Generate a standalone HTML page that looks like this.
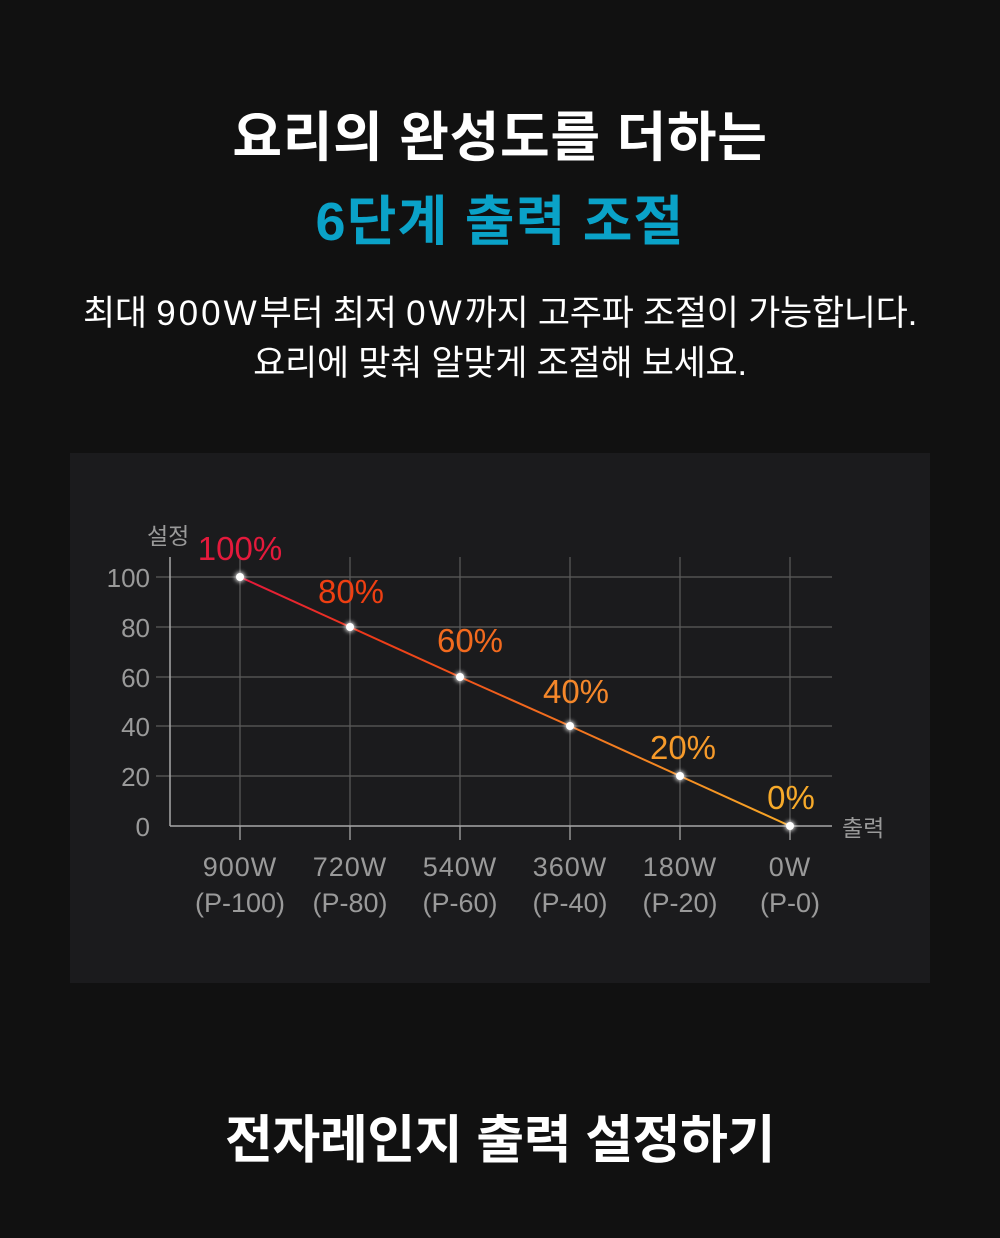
<!DOCTYPE html>
<html lang="ko">
<head>
<meta charset="utf-8">
<style>
  html, body { margin: 0; padding: 0; }
  body {
    width: 1000px; height: 1238px; background: #111111; position: relative; overflow: hidden;
    font-family: "Liberation Sans", "Noto Sans CJK KR", sans-serif;
  }
  .t { position: absolute; left: 0; width: 1000px; text-align: center; white-space: nowrap; line-height: 1; }
  .h1 { font-size: 54px; font-weight: 700; letter-spacing: 0.7px; color: #ffffff; }
  .h1c { color: #0aa2c8; letter-spacing: 1.2px; }
  .sub { font-size: 35px; font-weight: 400; letter-spacing: -0.3px; color: #ffffff; }
  .sub .n { letter-spacing: 3px; }
  .h2 { font-size: 52px; font-weight: 700; letter-spacing: -0.4px; color: #ffffff; }
  .panel { position: absolute; left: 70px; top: 453px; width: 860px; height: 530px; background: #1b1b1d; }
  svg { position: absolute; left: 0; top: 0; }
</style>
</head>
<body>
  <div class="t h1" style="top:111px;">요리의 완성도를 더하는</div>
  <div class="t h1 h1c" style="top:195px;">6단계 출력 조절</div>
  <div class="t sub" style="top:296px;">최대 <span class="n">900W</span>부터 최저 <span class="n">0W</span>까지 고주파 조절이 가능합니다.</div>
  <div class="t sub" style="top:346px;">요리에 맞춰 알맞게 조절해 보세요.</div>

  <div class="panel"></div>

  <svg width="1000" height="1238" viewBox="0 0 1000 1238" xmlns="http://www.w3.org/2000/svg">
    <defs>
      <linearGradient id="lg" x1="240" y1="0" x2="790" y2="0" gradientUnits="userSpaceOnUse">
        <stop offset="0" stop-color="#e4183c"/>
        <stop offset="0.25" stop-color="#ee3c18"/>
        <stop offset="0.55" stop-color="#f26c1e"/>
        <stop offset="1" stop-color="#f7a826"/>
      </linearGradient>
      <filter id="glow" x="-2" y="-2" width="5" height="5">
        <feGaussianBlur stdDeviation="2.2"/>
      </filter>
    </defs>

    <!-- horizontal grid + ticks -->
    <g stroke="#5c5c5c" stroke-width="1.2">
      <line x1="156" y1="577" x2="832" y2="577"/>
      <line x1="156" y1="627" x2="832" y2="627"/>
      <line x1="156" y1="677" x2="832" y2="677"/>
      <line x1="156" y1="726" x2="832" y2="726"/>
      <line x1="156" y1="776" x2="832" y2="776"/>
    </g>
    <!-- vertical grid + ticks -->
    <g stroke="#5c5c5c" stroke-width="1.2">
      <line x1="240" y1="557" x2="240" y2="840"/>
      <line x1="350" y1="557" x2="350" y2="840"/>
      <line x1="460" y1="557" x2="460" y2="840"/>
      <line x1="570" y1="557" x2="570" y2="840"/>
      <line x1="680" y1="557" x2="680" y2="840"/>
      <line x1="790" y1="557" x2="790" y2="840"/>
    </g>
    <!-- axes -->
    <g stroke="#a8a8a8" stroke-width="1.5">
      <line x1="170" y1="557" x2="170" y2="826"/>
      <line x1="170" y1="826" x2="832" y2="826"/>
    </g>
    <g stroke="#a8a8a8" stroke-width="1.2">
      <line x1="240" y1="826" x2="240" y2="840"/>
      <line x1="350" y1="826" x2="350" y2="840"/>
      <line x1="460" y1="826" x2="460" y2="840"/>
      <line x1="570" y1="826" x2="570" y2="840"/>
      <line x1="680" y1="826" x2="680" y2="840"/>
      <line x1="790" y1="826" x2="790" y2="840"/>
    </g>

    <!-- y tick labels -->
    <g font-family="Liberation Sans, Noto Sans CJK KR, sans-serif" font-size="26" fill="#9a9a9a" text-anchor="end">
      <text x="150" y="587">100</text>
      <text x="150" y="637">80</text>
      <text x="150" y="687">60</text>
      <text x="150" y="736">40</text>
      <text x="150" y="786">20</text>
      <text x="150" y="836">0</text>
    </g>
    <text x="147" y="544" font-family="Liberation Sans, Noto Sans CJK KR, sans-serif" font-size="23" fill="#9a9a9a">설정</text>
    <text x="842" y="836" font-family="Liberation Sans, Noto Sans CJK KR, sans-serif" font-size="23" fill="#9a9a9a">출력</text>

    <!-- x tick labels -->
    <g font-family="Liberation Sans, Noto Sans CJK KR, sans-serif" font-size="27" fill="#9a9a9a" text-anchor="middle">
      <text x="240" y="876" letter-spacing="1">900W</text>
      <text x="350" y="876" letter-spacing="1">720W</text>
      <text x="460" y="876" letter-spacing="1">540W</text>
      <text x="570" y="876" letter-spacing="1">360W</text>
      <text x="680" y="876" letter-spacing="1">180W</text>
      <text x="790" y="876" letter-spacing="1">0W</text>
      <text x="240" y="912">(P-100)</text>
      <text x="350" y="912">(P-80)</text>
      <text x="460" y="912">(P-60)</text>
      <text x="570" y="912">(P-40)</text>
      <text x="680" y="912">(P-20)</text>
      <text x="790" y="912">(P-0)</text>
    </g>

    <!-- data line -->
    <polyline points="240,577 350,627 460,677 570,726 680,776 790,826" fill="none" stroke="url(#lg)" stroke-width="2"/>

    <!-- points -->
    <g fill="#ffffff">
      <g filter="url(#glow)" opacity="0.9">
        <circle cx="240" cy="577" r="5"/>
        <circle cx="350" cy="627" r="5"/>
        <circle cx="460" cy="677" r="5"/>
        <circle cx="570" cy="726" r="5"/>
        <circle cx="680" cy="776" r="5"/>
        <circle cx="790" cy="826" r="5"/>
      </g>
      <circle cx="240" cy="577" r="4"/>
      <circle cx="350" cy="627" r="4"/>
      <circle cx="460" cy="677" r="4"/>
      <circle cx="570" cy="726" r="4"/>
      <circle cx="680" cy="776" r="4"/>
      <circle cx="790" cy="826" r="4"/>
    </g>

    <!-- percent labels -->
    <g font-family="Liberation Sans, Noto Sans CJK KR, sans-serif" font-size="33" text-anchor="middle">
      <text x="240" y="560" fill="#e41a3c">100%</text>
      <text x="351" y="603" fill="#ee3f12">80%</text>
      <text x="470" y="652" fill="#f26a1e">60%</text>
      <text x="576" y="703" fill="#f5872a">40%</text>
      <text x="683" y="759" fill="#f69a2a">20%</text>
      <text x="791" y="809" fill="#f7aa2a">0%</text>
    </g>
  </svg>

  <div class="t h2" style="top:1115px;">전자레인지 출력 설정하기</div>
</body>
</html>
